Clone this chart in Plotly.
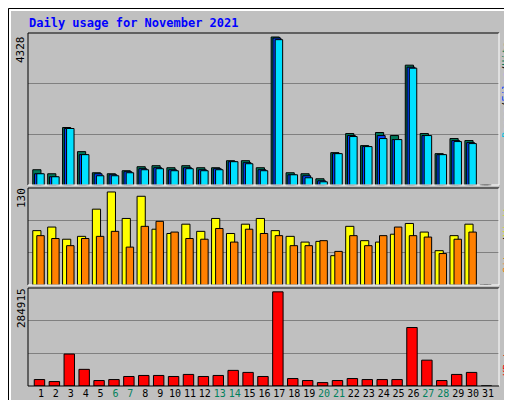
import plotly.graph_objects as go

days = list(range(1, 32))
hits = [450,333,1684,979,362,333,421,538,568,509,568,509,509,714,714,509,4328,362,333,186,950,1507,1155,1537,1449,3505,1507,920,1361,1302,0]
files = [333,245,1655,891,333,303,392,480,509,450,509,450,480,685,656,450,4298,303,274,127,920,1449,1126,1449,1331,3446,1449,891,1302,1243,0]
pages = [333,245,1655,891,274,274,362,450,480,421,480,421,450,685,626,421,4250,303,215,98,920,1420,1126,1361,1331,3417,1449,891,1273,1214,0]
visits = [76,81,64,68,106,130,93,124,78,72,85,75,93,72,85,93,76,68,60,61,41,82,62,60,71,86,74,48,69,85,0]
sites = [69,65,55,65,68,75,53,82,89,74,65,64,79,60,78,72,69,55,55,62,47,69,55,69,81,69,67,44,64,74,0]
kbytes = [19500,13400,96700,50400,16500,19500,28800,31900,31900,28800,35000,28800,31900,47300,41100,28800,284915,22600,16500,10300,16500,22600,19500,19500,19500,177000,78200,16500,35000,41100,0]
weekend = [6,7,13,14,20,21,27,28]
tick_text = [f"<span style='color:#00805C'>{d}</span>" if d in weekend else str(d) for d in days]

hits_max, visits_max, kb_max = 4328, 130, 284915
top_M, mid_M, bot_M = 4445, 135.6, 297000

fig = go.Figure()
def bar(y, color, axis, off, w):
    fig.add_trace(go.Bar(x=days, y=y, marker=dict(color=color, line=dict(color="black", width=1)),
                         offset=off, width=w, xaxis="x", yaxis=axis, showlegend=False))
bar(hits, "#00785A", "y3", -0.55, 0.55)
bar(files, "#0040FF", "y3", -0.43, 0.53)
bar(pages, "#00E0FF", "y3", -0.28, 0.5)
bar(visits, "#FFFF00", "y2", -0.55, 0.55)
bar(sites, "#FF8000", "y2", -0.28, 0.5)
bar(kbytes, "#FF0000", "y", -0.45, 0.7)

grid = dict(showgrid=True, gridcolor="#808080", gridwidth=1, showticklabels=False, zeroline=False, ticks="")
fig.update_layout(
    width=512, height=400, barmode="overlay",
    paper_bgcolor="#C0C0C0", plot_bgcolor="#C0C0C0",
    margin=dict(l=20, r=21, t=25, b=22),
    font=dict(family="DejaVu Sans Mono", size=11, color="black"),
    xaxis=dict(range=[0.13, 31.74], tickvals=days, ticktext=tick_text, showgrid=False, tickangle=0,
               ticks="", tickfont=dict(family="DejaVu Sans Mono", size=10), zeroline=False, automargin=False),
    yaxis=dict(domain=[0, 0.278], range=[0, bot_M], tickvals=[bot_M/3, 2*bot_M/3], **grid),
    yaxis2=dict(domain=[0.286, 0.561], range=[0, mid_M], tickvals=[mid_M/3, 2*mid_M/3], **grid),
    yaxis3=dict(domain=[0.569, 1], range=[0, top_M], tickvals=[top_M/3, 2*top_M/3], **grid),
)

W, H = 512, 400
L, R, T, B = 20, 21, 25, 22
pw, ph = W - L - R, H - T - B
def pshape(x0, y0, x1, y1, color, width=1):
    return dict(type="line", xref="paper", yref="paper",
                x0=(x0 - L) / pw, x1=(x1 - L) / pw, y0=(H - B - y0) / ph, y1=(H - B - y1) / ph,
                line=dict(color=color, width=width))
shapes = []
for (t, b) in [(25, 177), (180, 277), (280, 378)]:
    shapes.append(pshape(20, t, 491, t, "black"))
    shapes.append(pshape(20, t, 20, b, "black"))
    shapes.append(pshape(491, t, 491, b, "white"))
    shapes.append(pshape(20, b, 491, b, "white" if b != 378 else "black"))
shapes.append(pshape(0.5, 0.5, 511.5, 0.5, "black", 1))
shapes.append(pshape(0.5, 0.5, 0.5, 399.5, "black", 1))
shapes.append(pshape(511.5, 0.5, 511.5, 399.5, "black", 1))
shapes.append(pshape(0.5, 399.5, 511.5, 399.5, "black", 1))
shapes.append(pshape(1.5, 2, 509, 2, "white", 2))
shapes.append(pshape(2, 1.5, 2, 397, "white", 2))
shapes.append(pshape(508, 3, 508, 397, "#808080", 6))
shapes.append(pshape(3, 396, 511, 396, "#808080", 6))
fig.update_layout(shapes=shapes)

def ann(text, x, y, angle=-90, color="black", size=11, xanchor="center", yanchor="middle"):
    fig.add_annotation(text=text, xref="paper", yref="paper", x=(x - L) / pw, y=(H - B - y) / ph,
                       showarrow=False, textangle=angle, xanchor=xanchor, yanchor=yanchor,
                       font=dict(family="DejaVu Sans Mono", size=size, color=color))

ann("<b>Daily usage for November 2021</b>", 19, 15, angle=0, color="#0000FF", size=12, xanchor="left")
ann(str(hits_max), 13, 42)
ann(str(visits_max), 13, 190)
ann(str(kb_max), 13, 300)
ann("<span style='color:#00C0E0'>Pages</span>/<span style='color:#0040FF'>Files</span>/<span style='color:#00785A'>Hits</span>",
    499, 82, size=10)
ann("<span style='color:#FF8000'>Sites</span>/<span style='color:#E0E000'>Visits</span>", 499, 229, size=10)
ann("<span style='color:#FF0000'>KBytes</span>", 499, 350, size=10)

fig.write_html("out.html")
